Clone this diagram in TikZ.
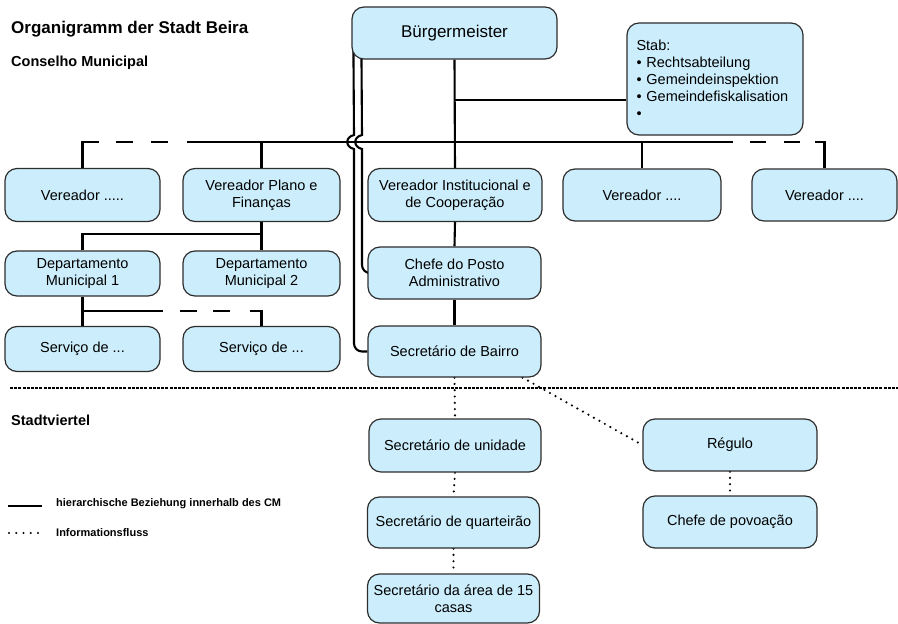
\documentclass[tikz,border=0pt]{standalone}
\usepackage{fontspec}
\setmainfont{Liberation Sans}
\usetikzlibrary{calc}
\pgfdeclarelayer{bg}
\pgfsetlayers{bg,main}
\definecolor{boxfill}{RGB}{204,238,252}
\definecolor{boxline}{RGB}{45,45,45}
\tikzset{
  box/.style={draw=boxline, fill=boxfill, line width=1.2pt, rounded corners=12pt,
    align=center, inner sep=2pt, font=\fontsize{14.5}{17}\selectfont},
  hier/.style={draw=black, line width=2.1pt},
  info/.style={draw=black, line width=2.4pt, line cap=round, dash pattern=on 0pt off 6.3pt},
  sep/.style={draw=black, line width=1.5pt, dash pattern=on 3pt off 1.2pt},
  lbl/.style={inner sep=0pt, anchor=west, font=\bfseries}
}
\begin{document}
\begin{tikzpicture}[x=1pt,y=-1pt]
\useasboundingbox (0,0) rectangle (898,624);

% titles
\node[lbl, font=\bfseries\fontsize{17}{20}\selectfont] (title) at (11,29) {Organigramm der Stadt Beira};
\node[lbl, font=\bfseries\fontsize{14.5}{17}\selectfont] (cm) at (11,63) {Conselho Municipal};
\node[lbl, font=\bfseries\fontsize{14.5}{17}\selectfont] (sv) at (11,420) {Stadtviertel};

% boxes
\node[box, minimum width=205pt, minimum height=52pt, font=\fontsize{17}{20}\selectfont] (bm) at (454.5,33) {Bürgermeister};
\node[box, minimum width=176pt, minimum height=112pt, align=left, text width=157pt, inner xsep=9.5pt, inner ysep=0pt] (stab) at (715,79)
  {Stab:\\\textbullet\ Rechtsabteilung\\\textbullet\ Gemeindeinspektion\\\textbullet\ Gemeindefiskalisation\\\textbullet};

\node[box, minimum width=155pt, minimum height=53pt] (v1) at (82.5,195) {Vereador .....};
\node[box, minimum width=157pt, minimum height=53pt] (vpf) at (261.5,195) {Vereador Plano e\\Finanças};
\node[box, minimum width=174pt, minimum height=53pt] (vi) at (455,195) {Vereador Institucional e\\de Cooperação};
\node[box, minimum width=158pt, minimum height=52pt] (v4) at (642,195) {Vereador ....};
\node[box, minimum width=145pt, minimum height=52pt] (v5) at (824.5,195) {Vereador ....};

\node[box, minimum width=155pt, minimum height=45pt] (dm1) at (82.5,273.5) {Departamento\\Municipal 1};
\node[box, minimum width=157pt, minimum height=45pt] (dm2) at (261.5,273.5) {Departamento\\Municipal 2};
\node[box, minimum width=173pt, minimum height=52pt] (cp) at (454.5,273) {Chefe do Posto\\Administrativo};

\node[box, minimum width=155pt, minimum height=45pt] (sv1) at (82.5,349) {Serviço de ...};
\node[box, minimum width=157pt, minimum height=45pt] (sv2) at (261.5,349) {Serviço de ...};
\node[box, minimum width=173pt, minimum height=51pt] (sb) at (454.5,351.5) {Secretário de Bairro};

\node[box, minimum width=172pt, minimum height=53pt] (su) at (455,445.5) {Secretário de unidade};
\node[box, minimum width=172pt, minimum height=51pt] (sq) at (453.5,522.5) {Secretário de quarteirão};
\node[box, minimum width=172pt, minimum height=49pt] (sa) at (453.5,598.5) {Secretário da área de 15\\casas};
\node[box, minimum width=174pt, minimum height=52pt] (rg) at (730,445) {Régulo};
\node[box, minimum width=174pt, minimum height=52pt] (chp) at (730,522) {Chefe de povoação};

% legend
\coordinate (lh1) at (8,506);
\coordinate (lh2) at (42,506);
\coordinate (li1) at (9,533);
\coordinate (li2) at (38,533);
\node[lbl, font=\bfseries\fontsize{11}{13}\selectfont] (lht) at (56,504) {hierarchische Beziehung innerhalb des CM};
\node[lbl, font=\bfseries\fontsize{11}{13}\selectfont] (lit) at (56,533) {Informationsfluss};

% helper coordinates
\coordinate (busy) at (0,142);
\coordinate (staby) at (0,100);
\coordinate (depy) at (0,234);
\coordinate (svy) at (0,311);
\coordinate (sepL) at (10,388);
\coordinate (sepR) at (898,388);

\begin{pgfonlayer}{bg}
  % Bürgermeister connections
  \draw[hier] (bm.south) -- (vi.north);
  \draw[hier] (bm.south |- staby) -- (stab.west |- staby);
  % main bus
  \draw[hier] (v1.north) |- (99,142);
  \draw[hier, dash pattern=on 17pt off 18pt] (116,142) -- (170,142);
  \draw[hier] (187,142) -- (733,142);
  \draw[hier, dash pattern=on 16pt off 18pt] (750,142) -- (800,142);
  \draw[hier] (815,142) -| (v5.north);
  \draw[hier] (vpf.north) -- (vpf.north |- busy);
  \draw[hier] (v4.north) -- (v4.north |- busy);
  % lines with bridges
  \draw[hier] ($(bm.south west)+(2,-14)$) -- (354,135)
     .. controls (345,137) and (345,147) .. (354,149)
     [rounded corners=8pt] |- (sb.west);
  \draw[hier] ($(bm.south west)+(10,-14)$) -- (362,135)
     .. controls (353,137) and (353,147) .. (362,149)
     [rounded corners=8pt] |- (cp.west);
  % chain
  \draw[hier] (vi.south) -- (cp.north);
  \draw[hier] (cp.south) -- (sb.north);
  % Plano e Finanças
  \draw[hier] (vpf.south) -- (dm2.north);
  \draw[hier] (vpf.south |- depy) -| (dm1.north);
  % Departamento 1
  \draw[hier] (dm1.south) -- (sv1.north);
  \draw[hier] (dm1.south |- svy) -- (163,311);
  \draw[hier, dash pattern=on 17pt off 16pt] (180,311) -- (231,311);
  \draw[hier] (250,311) -| (sv2.north);
  % separator
  \draw[sep] (sepL) -- (sepR);
  % information flow
  \draw[info] (sb.south) -- (su.north);
  \draw[info] ($(sb.south)+(68,0)$) -- (rg.west);
  \draw[info] (su.south) -- (sq.north);
  \draw[info] (sq.south) -- (sa.north);
  \draw[info] (rg.south) -- (chp.north);
  % legend lines
  \draw[hier, line width=2.5pt] (lh1) -- (lh2);
  \draw[info, line width=2.2pt, dash pattern=on 0pt off 7.25pt] (li1) -- (li2);
\end{pgfonlayer}
\end{tikzpicture}
\end{document}
